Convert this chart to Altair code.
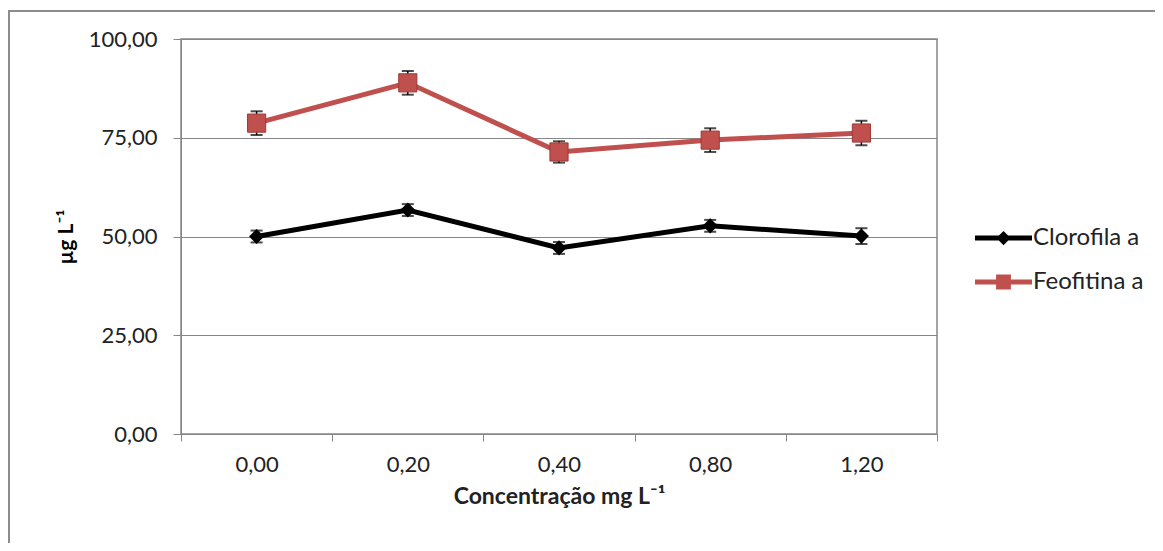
import altair as alt
import pandas as pd

conc = ["0,00", "0,20", "0,40", "0,80", "1,20"]
series_names = ["Clorofila a", "Feofitina a"]
clorofila = [50.0, 56.7, 47.1, 52.7, 50.1]
clorofila_err = [1.5, 1.5, 1.5, 1.5, 2.0]
feofitina = [78.7, 88.9, 71.4, 74.4, 76.2]
feofitina_err = [3.0, 3.0, 2.7, 3.0, 3.1]
y_ticks = [0, 25, 50, 75, 100]
colors = ["#000000", "#C0504D"]

rows = []
for s, vals, errs in [(series_names[0], clorofila, clorofila_err),
                      (series_names[1], feofitina, feofitina_err)]:
    for c, v, e in zip(conc, vals, errs):
        rows.append({"serie": s, "conc": c, "valor": v, "lo": v - e, "hi": v + e})
df = pd.DataFrame(rows)

FONT = "Lato"
GRID = "#868686"

x_enc = alt.X("conc:N", sort=conc, title="Concentração  mg L⁻¹",
              scale=alt.Scale(paddingInner=0, paddingOuter=0),
              axis=alt.Axis(labelAngle=0, tickBand="extent", tickSize=7, tickColor=GRID,
                            domainColor=GRID, labelFontSize=22, labelFont=FONT,
                            labelColor="#222222", labelPadding=13,
                            titleFont=FONT, titleFontSize=23, titleFontWeight="bold",
                            titleColor="#222222", titlePadding=10, grid=False))
y_enc = alt.Y("valor:Q", title="µg L⁻¹",
              scale=alt.Scale(domain=[0, 100], nice=False, zero=True),
              axis=alt.Axis(values=y_ticks,
                            labelExpr="replace(format(datum.value, '.2f'), '.', ',')",
                            tickSize=8, tickColor=GRID, domainColor=GRID, gridColor=GRID,
                            gridWidth=1, labelFontSize=22, labelFont=FONT,
                            labelColor="#222222", labelPadding=16,
                            titleFont=FONT, titleFontSize=21, titleFontWeight="bold",
                            titleColor="#000000", titlePadding=12))

# legend symbols: a filled bar (the line) united with the marker, in unit coordinates
LEG_DIAMOND = "M-1,-0.088H1V0.088H-1Z M0,-0.25L0.25,0L0,0.25L-0.25,0Z"
LEG_SQUARE = "M-1,-0.088H1V0.088H-1Z M-0.26,-0.26H0.26V0.26H-0.26Z"
legend = alt.Legend(
    title=None, orient="none", legendX=794, legendY=185,
    labelFont=FONT, labelFontSize=24, labelColor="#222222",
    symbolSize=3249, clipHeight=28, rowPadding=16, labelOffset=1,
    symbolOpacity=1, symbolStrokeWidth=0)

base = alt.Chart(df)
clo = base.transform_filter(alt.datum.serie == series_names[0])
feo = base.transform_filter(alt.datum.serie == series_names[1])

err_rule = base.mark_rule(color="#000000", strokeWidth=1.5).encode(
    x=x_enc, y=alt.Y("lo:Q"), y2="hi:Q")
cap_lo = base.mark_tick(color="#000000", size=12, thickness=2).encode(x=x_enc, y=alt.Y("lo:Q"))
cap_hi = base.mark_tick(color="#000000", size=12, thickness=2).encode(x=x_enc, y=alt.Y("hi:Q"))

line_clo = clo.mark_line(strokeWidth=5, color=colors[0]).encode(x=x_enc, y=y_enc)
line_feo = feo.mark_line(strokeWidth=5, color=colors[1]).encode(x=x_enc, y=y_enc)

pts_clo = clo.mark_point(filled=True, opacity=1, shape="diamond", size=230,
                         color=colors[0]).encode(x=x_enc, y=y_enc)
pts_feo = feo.mark_point(filled=True, opacity=1, shape="square", size=330, color=colors[1],
                         stroke="#9C3A37", strokeWidth=1).encode(x=x_enc, y=y_enc)

# invisible layer that only carries the legend (line + marker symbols)
legend_layer = base.mark_point(filled=True, opacity=0).encode(
    x=x_enc, y=y_enc,
    color=alt.Color("serie:N", scale=alt.Scale(domain=series_names, range=colors), legend=legend),
    shape=alt.Shape("serie:N", scale=alt.Scale(domain=series_names, range=[LEG_DIAMOND, LEG_SQUARE]),
                    legend=legend))

# outer chart frame (top and left edges visible in the reference)
frame_top = alt.Chart(pd.DataFrame({"k": [0]})).mark_rule(color="#8c8c8c", strokeWidth=2).encode(
    x=alt.value(-173), x2=alt.value(990), y=alt.value(-28))
frame_left = alt.Chart(pd.DataFrame({"k": [0]})).mark_rule(color="#8c8c8c", strokeWidth=2).encode(
    x=alt.value(-172), y=alt.value(-28), y2=alt.value(520))

chart = alt.layer(frame_top, frame_left, err_rule, cap_lo, cap_hi, line_clo, line_feo,
                  pts_clo, pts_feo, legend_layer).properties(
    width=756, height=395,
    padding={"left": 173, "top": 31, "right": 218, "bottom": 109},
    autosize=alt.AutoSizeParams(type="none"),
    background="#ffffff",
).configure_view(stroke=GRID, strokeWidth=1.5)

chart.save("out.html", embed_options={"renderer": "svg", "actions": False})
